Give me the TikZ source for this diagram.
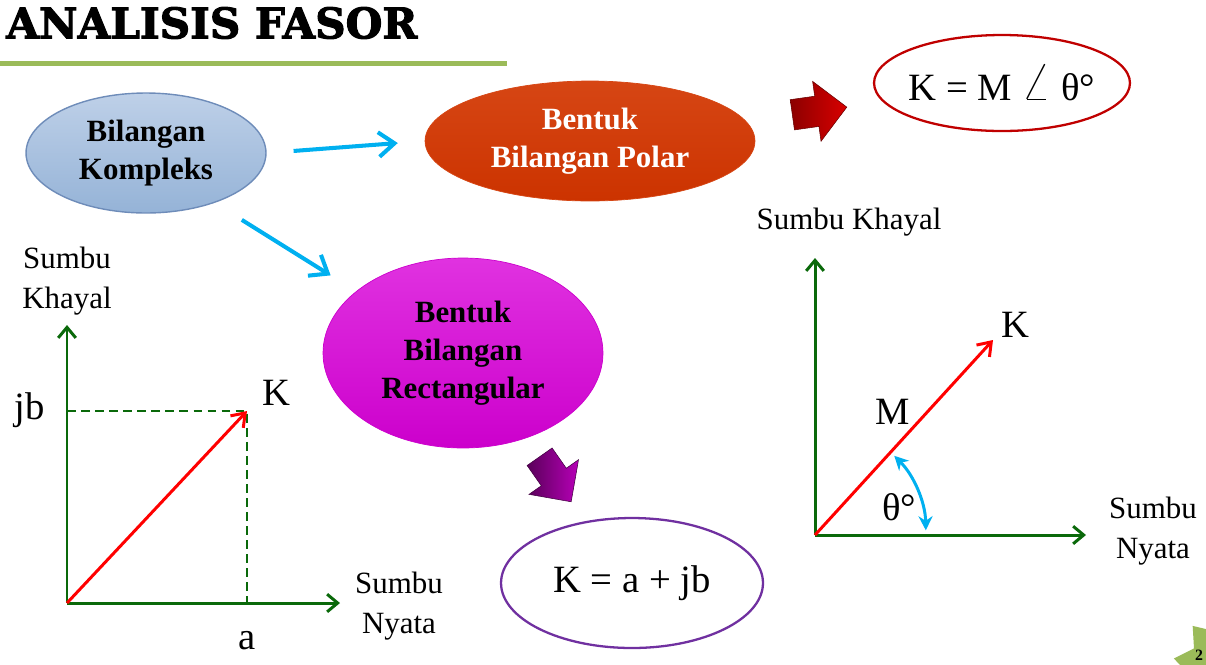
\documentclass[tikz,border=0pt]{standalone}
\usepackage{fontspec}
\setmainfont{Liberation Serif}
\newfontfamily\titlefont[FakeBold=2.5]{DejaVu Serif Bold}
\usetikzlibrary{
  shapes.geometric,
  shapes.arrows,
  arrows.meta,
  positioning
}
\definecolor{kblue}{RGB}{149,179,215}
\definecolor{kbluetop}{RGB}{190,208,232}
\definecolor{kblueedge}{RGB}{110,140,185}
\definecolor{polarred}{RGB}{204,51,0}
\definecolor{polartop}{RGB}{214,70,20}
\definecolor{rectmag}{RGB}{204,0,204}
\definecolor{recttop}{RGB}{224,50,224}
\definecolor{formred}{RGB}{192,0,0}
\definecolor{formpurple}{RGB}{112,48,160}
\definecolor{axisgreen}{RGB}{10,105,10}
\definecolor{skycyan}{RGB}{0,176,240}
\definecolor{linegreen}{RGB}{155,187,89}

\begin{document}
\begin{tikzpicture}[x=0.02cm, y=0.02cm,
  bubble/.style={ellipse, inner sep=0pt, align=center, font=\fontsize{17.6}{21.5}\selectfont\bfseries},
  formula/.style={ellipse, draw, line width=1.3pt, fill=white, inner sep=0pt, font=\fontsize{22}{26}\selectfont},
  label/.style={align=center, inner sep=0pt, font=\fontsize{17.6}{22.5}\selectfont},
  bigl/.style={inner sep=0pt, font=\fontsize{22}{26}\selectfont},
  flow/.style={skycyan, line width=2.3pt, -{Straight Barb[length=9pt, width=14pt]}},
  axis/.style={axisgreen, line width=1.7pt, -{Straight Barb[length=6pt, width=10pt]}},
  vec/.style={red, line width=1.7pt, -{Straight Barb[length=7pt, width=10pt]}},
  guide/.style={axisgreen, line width=1.4pt, dash pattern=on 5pt off 3pt},
  blockarr/.style={single arrow, inner sep=0.3cm, single arrow head extend=0.3cm, minimum height=1.1cm}
]
  \clip (0,0) rectangle (1206,-664);

  % title
  \node[anchor=west, inner sep=0pt, font=\titlefont\fontsize{24}{28}\selectfont] (title) at (6,-23) {ANALISIS FASOR};
  \fill[linegreen] (0,-61) rectangle (507,-66);

  % bubbles
  \node[bubble, draw=kblueedge, line width=0.8pt, top color=kbluetop, bottom color=kblue,
        minimum width=4.8cm, minimum height=2.4cm] (kompleks) at (146,-153) {Bilangan\\Kompleks};
  \node[bubble, text=white, draw=polartop, top color=polartop, bottom color=polarred,
        minimum width=6.6cm, minimum height=2.4cm] (polar) at (590,-141) {Bentuk\\Bilangan Polar};
  \node[bubble, draw=rectmag, top color=recttop, bottom color=rectmag,
        minimum width=5.6cm, minimum height=3.8cm] (rect) at (463,-353) {Bentuk\\Bilangan\\Rectangular};

  % result forms
  \node[formula, draw=formred, inner xsep=-12pt, minimum width=5.12cm, minimum height=1.92cm] (polarform) at (1002,-83)
    {K = M \scalebox{1.5}{$\angle$} θ°};
  \node[formula, draw=formpurple, minimum width=5.24cm, minimum height=2.6cm] (rectform) at (632,-583) {K = a + jb};

  % connectors
  \draw[flow, shorten <=0.54cm, shorten >=0.54cm] (kompleks.east) -- (polar.west);
  \draw[flow, shorten <=0.64cm, shorten >=0.6cm] (kompleks.-36) -- (rect.150);

  % block arrows
  \node[blockarr, rotate=8, left color=red!55!black, right color=red!85!black, draw=red!40!black, line width=0.3pt] (polararr) at (812,-112) {};
  \node[blockarr, rotate=-55, left color=violet!70!black, right color=rectmag!90!black, draw=violet!50!black, line width=0.3pt] (rectarr) at (551,-473) {};

  % rectangular plane
  \coordinate (o1) at (67,-603);
  \coordinate (y1) at (67,-325);
  \coordinate (x1) at (340,-603);
  \coordinate (k1) at (247,-411);
  \coordinate (jb1) at (67,-411);
  \coordinate (a1) at (247,-603);
  \draw[guide] (jb1) -- (k1) -- (a1);
  \draw[axis] (o1) -- (y1);
  \draw[axis] (o1) -- (x1);
  \draw[vec] (o1) -- (k1);
  \node[label] (khayal1) at (67,-281) {Sumbu\\Khayal};
  \node[label] (nyata1) at (399,-606) {Sumbu\\Nyata};
  \node[bigl] (jb) at (30,-410) {jb};
  \node[bigl] (kl) at (276,-393) {K};
  \node[bigl] (al) at (247,-641) {a};

  % polar plane
  \coordinate (o2) at (815,-535);
  \coordinate (y2) at (815,-258);
  \coordinate (x2) at (1086,-535);
  \coordinate (k2) at (993,-340);
  \draw[axis] (o2) -- (y2);
  \draw[axis] (o2) -- (x2);
  \draw[vec] (o2) -- (k2);
  \draw[skycyan, line width=1.7pt, {Stealth[length=8pt, width=8pt]}-{Stealth[length=8pt, width=8pt]}]
    ([shift={(45:112)}]o2) arc[start angle=45, end angle=1, radius=108];
  \node[label] (khayal2) at (849,-222) {Sumbu Khayal};
  \node[label] (nyata2) at (1153,-531) {Sumbu\\Nyata};
  \node[bigl] (kr) at (1015,-325) {K};
  \node[bigl] (ml) at (893,-412) {M};
  \node[bigl] (theta) at (899,-507) {θ°};

  % page badge
  \node[star, star points=9, star point ratio=1.4, fill=linegreen, minimum size=2.2cm, inner sep=0pt] (badge) at (1228,-668) {};
  \node[font=\bfseries\fontsize{9}{10}\selectfont, inner sep=0pt] (pagenum) at (1199,-655) {2};
\end{tikzpicture}
\end{document}
